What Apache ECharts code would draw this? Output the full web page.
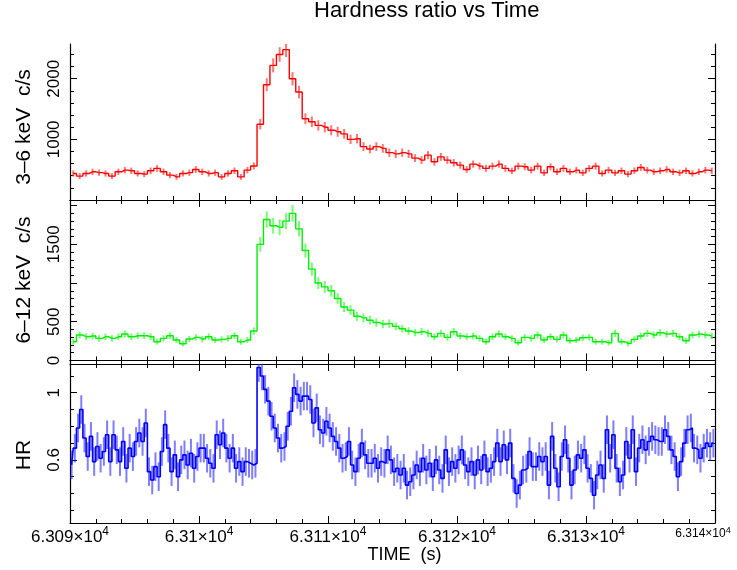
<!DOCTYPE html>
<html><head><meta charset="utf-8">
<script src="https://cdn.jsdelivr.net/npm/echarts@6/dist/echarts.min.js"></script>
<style>html,body{margin:0;padding:0;background:#fff}#c{width:737px;height:570px}</style>
</head><body><div id="c"></div><script>
// ---- data ----
const timeStart = 63090;           // s
const countBinWidth = 0.5;         // s
const hrBinWidth = 0.25;           // s
const xTickValues = [63090, 63100, 63110, 63120, 63130, 63140];
const xTickLabels = ['6.309', '6.31', '6.311', '6.312', '6.313', '6.314'];

// 3-6 keV count rate (c/s), 0.5 s bins
const soft = [437,393,437,464,450,437,393,464,492,481,437,426,481,520,464,409,381,437,450,503,464,437,450,381,437,481,381,492,
  560,1250,1900,2220,2400,2480,2000,1780,1340,1290,1230,1200,1150,1124,1090,1000,1010,880,840,880,850,780,760,780,760,690,
  657,739,629,711,657,613,574,503,591,558,520,558,591,520,480,558,547,492,558,447,547,464,520,464,492,447,520,558,437,492,
  447,481,426,481,536,492,464,481,503,464,447,481,437,464,492,481];
// 6-12 keV count rate (c/s), 0.5 s bins
const hard = [242,328,306,315,285,306,285,306,341,306,319,319,306,242,285,319,264,216,277,298,277,306,264,272,285,319,242,264,
  380,1500,1820,1740,1720,1800,1900,1700,1420,1180,1000,950,900,800,690,650,570,550,520,490,470,475,440,410,380,360,
  371,350,306,350,298,371,315,306,315,285,242,306,341,306,285,229,298,285,328,264,306,272,328,255,264,293,298,242,242,229,
  350,242,220,272,315,350,328,358,341,350,306,255,328,341,328,315];
// hardness ratio, 0.25 s bins
const hr = [0.57,0.67,0.79,0.90,0.73,0.62,0.74,0.59,0.68,0.61,0.65,0.75,0.59,0.75,0.66,0.59,0.71,0.55,0.67,0.62,
  0.71,0.76,0.71,0.82,0.53,0.48,0.56,0.50,0.65,0.81,0.67,0.53,0.63,0.50,0.60,0.63,0.57,0.64,0.55,0.62,
  0.67,0.67,0.61,0.58,0.55,0.75,0.69,0.76,0.67,0.61,0.67,0.55,0.59,0.53,0.59,0.58,0.57,0.58,
  1.15,1.10,1.02,0.95,0.86,0.79,0.73,0.67,0.68,
  0.80,0.89,1.03,0.99,0.95,0.98,0.98,0.96,0.82,0.91,0.78,0.76,0.83,0.79,0.74,0.71,0.67,0.61,0.62,0.71,
  0.57,0.53,0.61,0.70,0.63,0.58,0.58,0.61,0.55,0.59,0.58,0.66,0.60,0.53,0.55,0.51,0.55,0.45,0.47,0.51,
  0.57,0.53,0.61,0.54,0.58,0.50,0.60,0.54,0.49,0.66,0.53,0.59,0.55,0.60,0.66,0.57,0.53,0.59,0.51,0.60,
  0.54,0.63,0.53,0.55,0.59,0.70,
  0.59,0.69,0.60,0.70,0.49,0.40,0.45,0.54,0.55,0.65,0.56,0.56,0.62,0.59,0.62,0.45,0.74,0.55,0.44,0.62,
  0.72,0.61,0.45,0.54,0.63,0.61,0.66,0.55,0.49,0.39,0.51,0.57,0.49,0.78,0.61,0.75,0.55,0.47,0.51,0.71,
  0.61,0.78,0.53,0.67,0.72,0.66,0.71,0.74,0.72,0.71,0.71,0.78,0.74,0.66,0.62,0.50,0.59,0.70,0.78,0.79,
  0.67,0.66,0.61,0.67,0.70,0.68,0.70];
const hrError = 0.085;
const countErrScale = 6; // Poisson-like error: sqrt(rate * scale)

// ---- chart ----
const FONT = 'Liberation Sans, Arial, sans-serif';
const chart = echarts.init(document.getElementById('c'), null, {renderer: 'canvas'});

const grids = [
  {left: 70, right: 22, top: 44, height: 160, outerBoundsMode: 'none', containLabel: false},
  {left: 70, right: 22, top: 204, height: 160, outerBoundsMode: 'none', containLabel: false},
  {left: 70, right: 22, top: 364, height: 159, outerBoundsMode: 'none', containLabel: false}
];

const xAxes = [], yAxes = [];
const LINE = {show: true, lineStyle: {color: '#000', width: 1.2}};
function addX(gi, withLabels) {
  const common = {gridIndex: gi, type: 'value', min: 63090, max: 63140, interval: 10,
    splitLine: {show: false}, axisLine: LINE,
    axisTick: {show: true, inside: true, length: 7, lineStyle: {color: '#000', width: 1}},
    minorTick: {show: true, splitNumber: 5, length: 4, lineStyle: {color: '#000', width: 1}}};
  const bottom = Object.assign({}, common, {position: 'bottom', axisLabel: {show: false}});
  if (withLabels) {
    bottom.axisLabel = {
      show: true, margin: 3, showMinLabel: true, showMaxLabel: true, hideOverlap: false,
      color: '#000', fontFamily: FONT,
      formatter: v => {
        const k = xTickValues.indexOf(v);
        const s = xTickLabels[k];
        if (k === xTickValues.length - 1) return '{s|' + s + '×10}{ss|4}{pad| }';
        return '{n|' + s + '×10}{sup|4}';
      },
      rich: {
        n: {fontSize: 17, lineHeight: 22, fontFamily: FONT, color: '#000'},
        sup: {fontSize: 12, lineHeight: 12, verticalAlign: 'top', fontFamily: FONT, color: '#000'},
        s: {fontSize: 12, lineHeight: 16, fontFamily: FONT, color: '#000'},
        ss: {fontSize: 9, lineHeight: 9, verticalAlign: 'top', fontFamily: FONT, color: '#000'},
        pad: {width: 24, fontSize: 12}
      }
    };
    bottom.name = 'TIME  (s)';
    bottom.nameLocation = 'middle';
    bottom.nameGap = 21;
    bottom.nameTextStyle = {fontSize: 18, color: '#000', fontFamily: FONT, padding: [0, 0, 0, 24]};
  }
  xAxes.push(bottom);
  xAxes.push(Object.assign({}, common, {position: 'top', axisLabel: {show: false}}));
}
function addY(gi, min, max, majors, minors, labels, name, namePad) {
  const common = {gridIndex: gi, type: 'value', min: min, max: max, splitLine: {show: false}};
  const idx = yAxes.length;
  yAxes.push(Object.assign({}, common, {position: 'left', axisLine: LINE,
    axisTick: {show: true, inside: true, length: 7, customValues: majors, lineStyle: {color: '#000'}},
    axisLabel: {show: true, customValues: labels, rotate: 90, margin: 7, fontSize: 17, color: '#000',
      fontFamily: FONT, formatter: v => String(v)},
    name: name, nameLocation: 'middle', nameGap: 35,
    nameTextStyle: {fontSize: 21, color: '#000', fontFamily: FONT, padding: namePad}}));
  yAxes.push(Object.assign({}, common, {position: 'left', axisLine: {show: false},
    axisTick: {show: true, inside: true, length: 4, customValues: minors, lineStyle: {color: '#000'}},
    axisLabel: {show: false}}));
  yAxes.push(Object.assign({}, common, {position: 'right', axisLine: LINE,
    axisTick: {show: true, inside: true, length: 7, customValues: majors, lineStyle: {color: '#000'}},
    axisLabel: {show: false}}));
  yAxes.push(Object.assign({}, common, {position: 'right', axisLine: {show: false},
    axisTick: {show: true, inside: true, length: 4, customValues: minors, lineStyle: {color: '#000'}},
    axisLabel: {show: false}}));
  return idx;
}
function range(a, b, step) { const r = []; for (let v = a; v <= b + 1e-9; v += step) r.push(+v.toFixed(4)); return r; }

addX(0, false); addX(1, false); addX(2, true);
const y0 = addY(0, -67, 2573, [0, 1000, 2000], range(0, 2400, 200), [1000, 2000], '3–6 keV  c/s', [0, 6, 0, 0]);
const y1 = addY(1, -46, 2021, [0, 500, 1000, 1500, 2000], range(0, 2000, 100), [0, 500, 1500], '6–12 keV  c/s', [0, 0, 0, 8]);
const y2 = addY(2, 0.2244, 1.171, [0.6, 1.0], range(0.3, 1.1, 0.1), [0.6, 1], 'HR', [0, 23, 0, 0]);

function lineData(vals, bw) { return vals.map((v, i) => [timeStart + (i + 0.5) * bw, v]); }
function errData(vals, bw, errFn) { return vals.map((v, i) => { const e = errFn(v); return [timeStart + (i + 0.5) * bw, v - e, v + e]; }); }
function errSeries(xi, yi, data, color, w) {
  return {type: 'custom', xAxisIndex: xi, yAxisIndex: yi, data: data, clip: true, z: 2, silent: true,
    encode: {x: 0, y: [1, 2]},
    renderItem: (params, api) => {
      const p1 = api.coord([api.value(0), api.value(1)]);
      const p2 = api.coord([api.value(0), api.value(2)]);
      return {type: 'line', shape: {x1: p1[0], y1: p1[1], x2: p2[0], y2: p2[1]},
        style: {stroke: color, lineWidth: w}};
    }};
}
function stepSeries(xi, yi, data, color, w) {
  return {type: 'line', xAxisIndex: xi, yAxisIndex: yi, data: data, step: 'middle', showSymbol: false,
    symbol: 'none', clip: true, z: 3, silent: true, lineStyle: {color: color, width: w}, animation: false};
}
const cErr = v => Math.sqrt(v * countErrScale);

chart.setOption({
  animation: false,
  backgroundColor: '#fff',
  title: {text: 'Hardness ratio vs Time', left: 314, top: 0, padding: 0,
    textStyle: {fontSize: 22, fontWeight: 'normal', color: '#000', fontFamily: FONT}},
  grid: grids,
  xAxis: xAxes,
  yAxis: yAxes,
  series: [
    errSeries(0, y0, errData(soft, countBinWidth, cErr), 'rgba(255,60,60,0.7)', 2),
    stepSeries(0, y0, lineData(soft, countBinWidth), '#ff0000', 1.4),
    errSeries(2, y1, errData(hard, countBinWidth, cErr), 'rgba(60,255,60,0.7)', 2),
    stepSeries(2, y1, lineData(hard, countBinWidth), '#00ee00', 1.4),
    errSeries(4, y2, errData(hr, hrBinWidth, () => hrError), 'rgba(40,40,255,0.6)', 2),
    stepSeries(4, y2, lineData(hr, hrBinWidth), '#0000ff', 1.6)
  ]
});
</script></body></html>
